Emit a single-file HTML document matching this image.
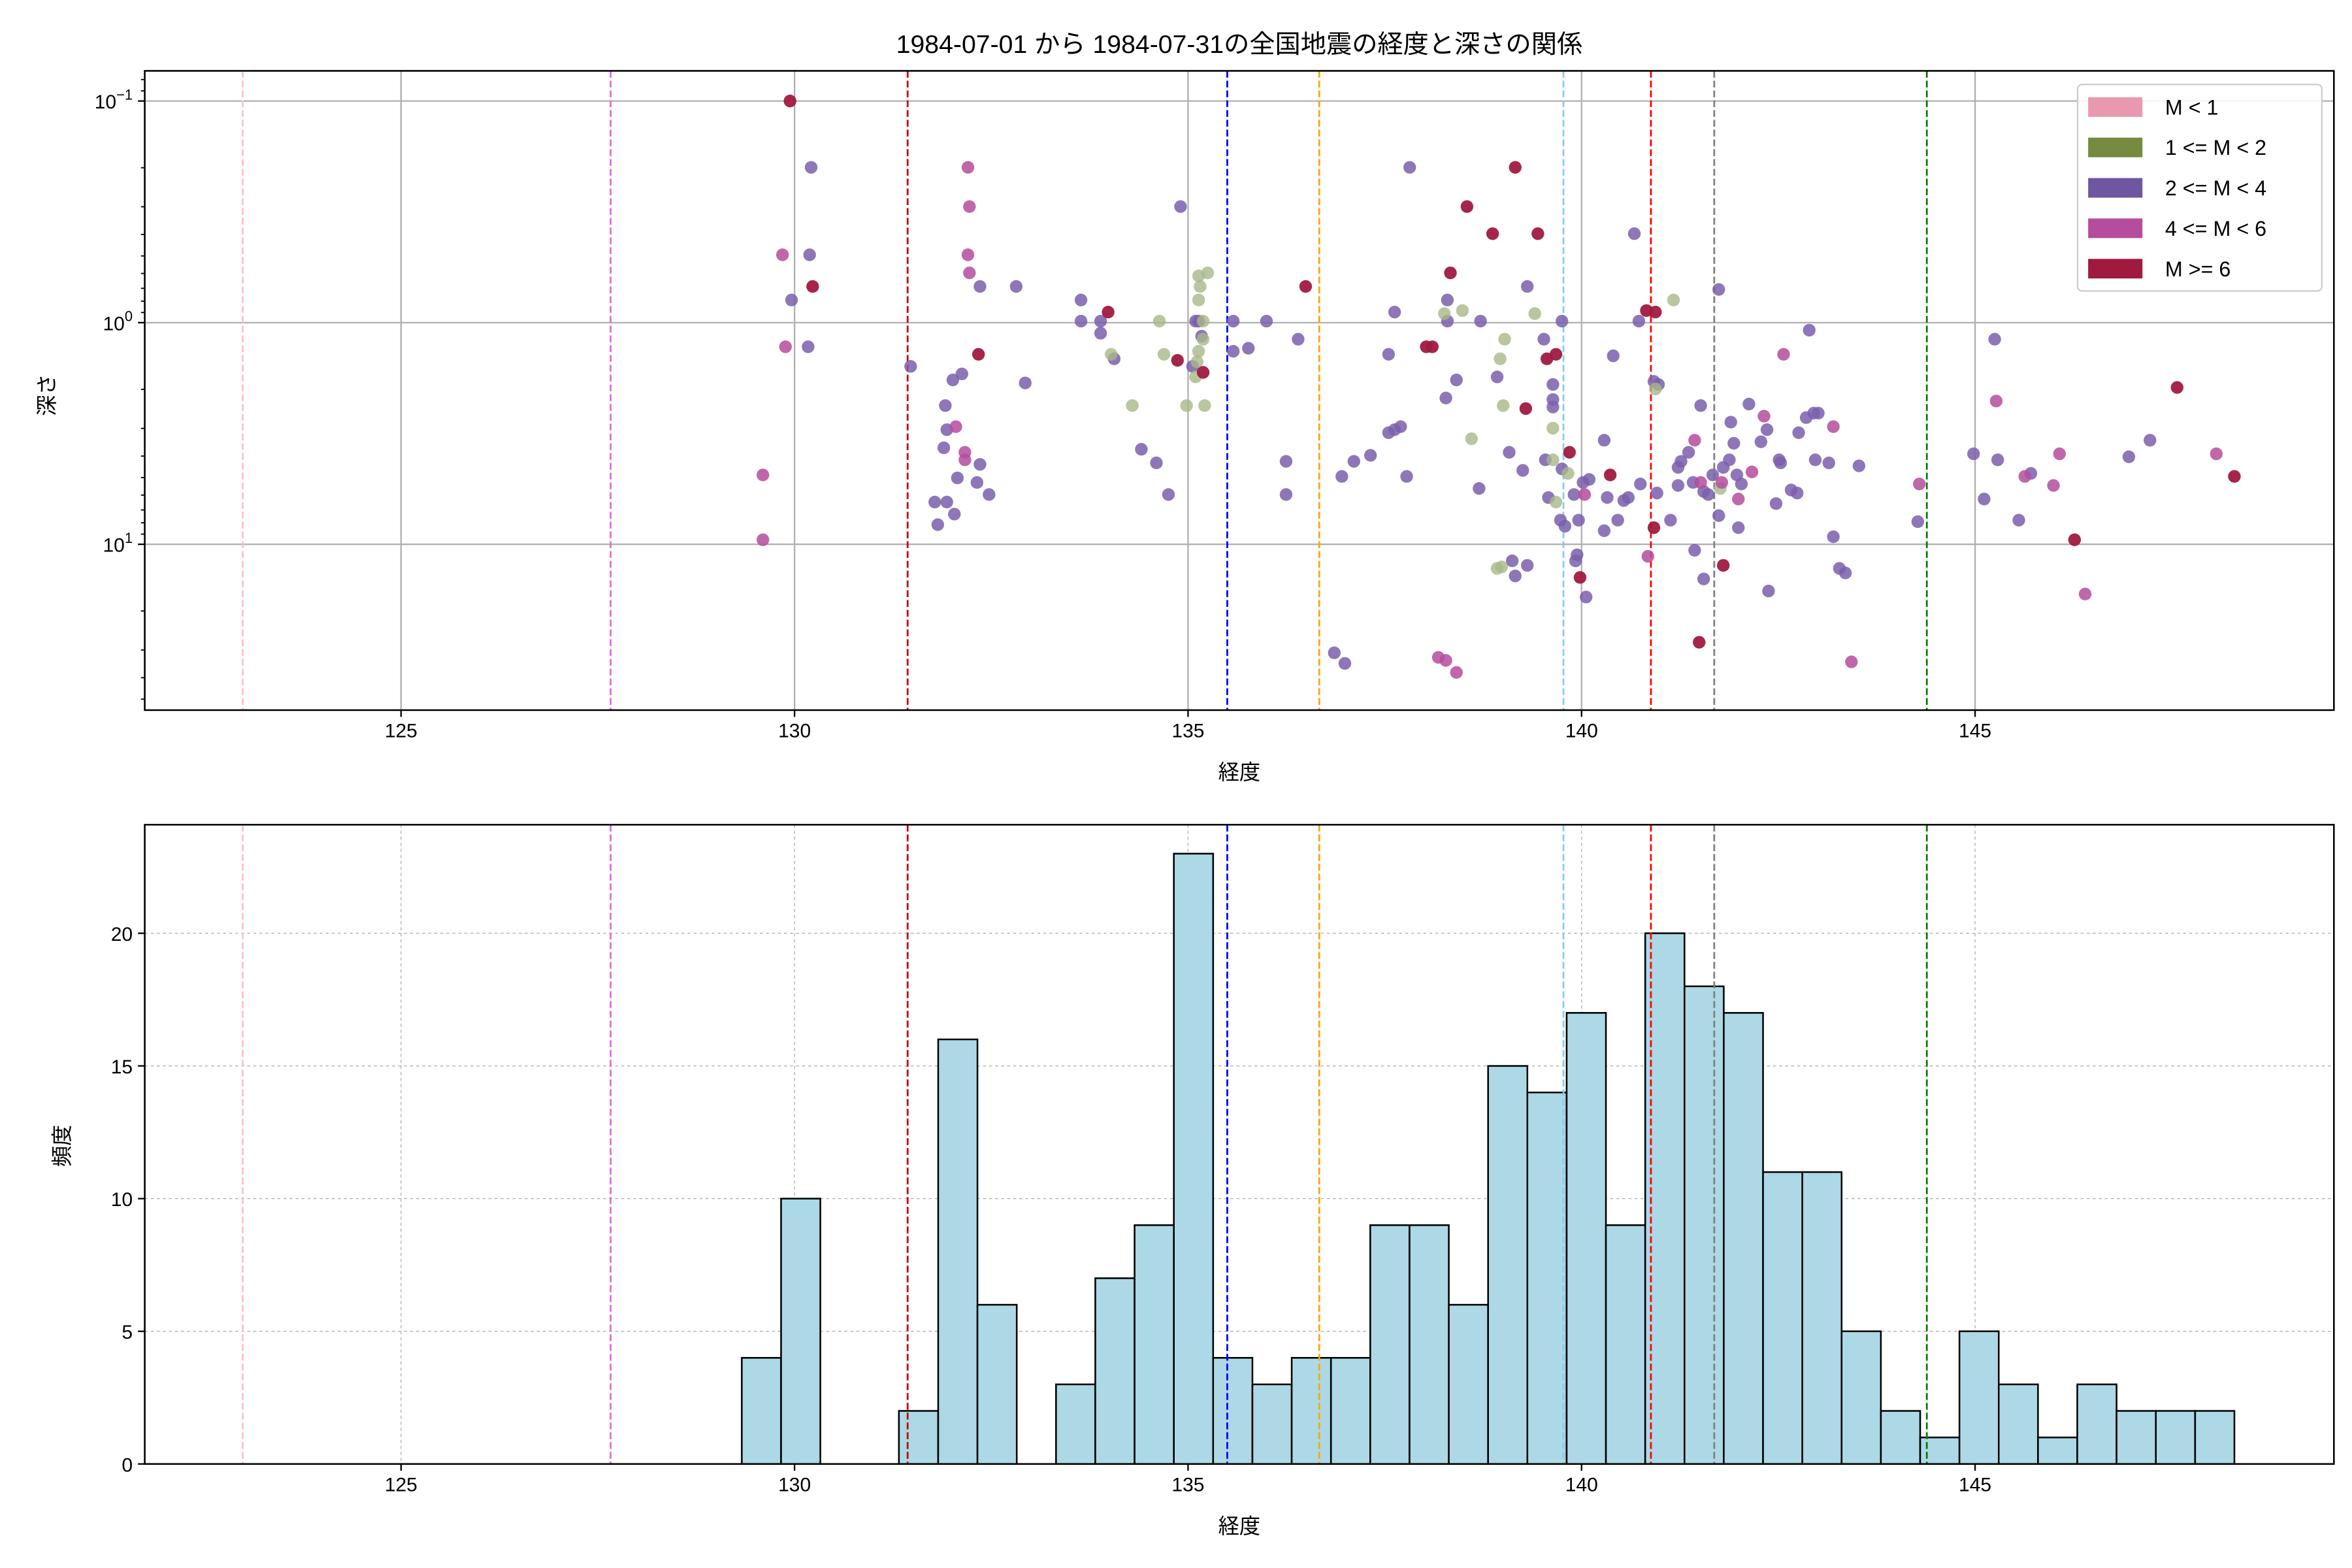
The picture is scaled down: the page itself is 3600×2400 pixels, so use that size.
<!DOCTYPE html>
<html><head><meta charset="utf-8">
<style>html,body{margin:0;padding:0;background:#fff}svg{display:block}</style>
</head><body>
<svg id="s" xmlns="http://www.w3.org/2000/svg" width="3600" height="2400" viewBox="0 0 1560 1040" font-family="'Liberation Sans','Noto Sans CJK JP',sans-serif"></svg>
<script>
const s=document.getElementById('s');let h='';
const X=l=>266+(l-125)*52.2;
const L=96,R=1548,T1=47,B1=471,T2=547,B2=971;
const YT=d=>214+147*Math.log10(d);
const YB=v=>971-17.6*v;
h+=`<rect width="1560" height="1040" fill="#fff"/>`;
// grids top
[125,130,135,140,145].forEach(l=>{h+=`<line x1="${X(l)}" y1="${T1}" x2="${X(l)}" y2="${B1}" stroke="#b0b0b0" stroke-width="1"/>`;});
[67,214,361].forEach(y=>{h+=`<line x1="${L}" y1="${y}" x2="${R}" y2="${y}" stroke="#b0b0b0" stroke-width="1"/>`;});
// grids bottom
[125,130,135,140,145].forEach(l=>{h+=`<line x1="${X(l)}" y1="${T2}" x2="${X(l)}" y2="${B2}" stroke="#b0b0b0" stroke-width="0.6" stroke-dasharray="2,2"/>`;});
[5,10,15,20].forEach(v=>{h+=`<line x1="${L}" y1="${YB(v)}" x2="${R}" y2="${YB(v)}" stroke="#b0b0b0" stroke-width="0.6" stroke-dasharray="2,2"/>`;});
// histogram
const hv=[4,10,0,0,2,16,6,0,3,7,9,23,4,3,4,4,9,9,6,15,14,17,9,20,18,17,11,11,5,2,1,5,3,1,3,2,2,2];
const w=(1482-492)/hv.length;
hv.forEach((v,i)=>{if(v>0)h+=`<rect x="${492+i*w}" y="${YB(v)}" width="${w}" height="${17.6*v}" fill="#add8e6" stroke="#000" stroke-width="1.1"/>`;});
// vertical lines
const vl=[[161,'pink'],[405,'orchid'],[602,'#c00000'],[814,'blue'],[875,'orange'],[1037,'skyblue'],[1095,'red'],[1137,'gray'],[1278,'green']];
vl.forEach(([x,c])=>{[[T1,B1],[T2,B2]].forEach(([a,b])=>{h+=`<line x1="${x}" y1="${a}" x2="${x}" y2="${b}" stroke="${c}" stroke-width="1.2" stroke-dasharray="4.5,2"/>`;});});
// points
const P={
'#7a5fab':[[538,111],[537,169],[525,199],[536,230],[604,243],[627,269],[638,248],[632,252],[628,285],[626,297],[635,317],[650,308],[648,320],[656,328],[620,333],[628,333],[622,348],[633,341],[650,190],[674,190],[680,254],[717,199],[717,213],[730,213],[730,221],[739,238],[757,298],[767,307],[775,328],[783,137],[791,243],[795,213],[797,223],[793,213],[818,233],[818,213],[828,231],[840,213],[861,225],[853,306],[853,328],[885,433],[892,440],[890,316],[898,306],[909,302],[921,287],[925,285],[929,283],[933,316],[921,235],[925,207],[935,111],[960,199],[960,213],[959,264],[966,252],[981,324],[982,213],[993,250],[1001,300],[1005,382],[1013,375],[1003,372],[1013,190],[1024,225],[1025,305],[1027,330],[1035,345],[1038,349],[1030,270],[1036,311],[1044,328],[1047,345],[1054,318],[1050,320],[1064,292],[1046,368],[1045,372],[1052,396],[1066,330],[1064,352],[1073,345],[1080,330],[1077,332],[1084,155],[1087,213],[1088,321],[1097,253],[1099,327],[1108,345],[1113,310],[1115,306],[1113,322],[1120,300],[1123,320],[1128,269],[1130,326],[1136,315],[1133,328],[1140,342],[1140,192],[1143,310],[1147,305],[1148,280],[1150,294],[1152,315],[1155,321],[1153,350],[1160,268],[1168,293],[1172,285],[1180,305],[1178,334],[1181,307],[1188,325],[1192,327],[1193,287],[1200,219],[1198,277],[1203,274],[1206,274],[1204,305],[1213,307],[1216,356],[1220,377],[1224,380],[1233,309],[1173,392],[1124,365],[1130,384],[1070,236],[1100,255],[1036,213],[1030,265],[1010,312],[1030,255],[1272,346],[1309,301],[1316,331],[1323,225],[1325,305],[1339,345],[1347,314],[1412,303],[1426,292]],
'#a8b888':[[737,235],[751,269],[769,213],[772,235],[787,269],[793,250],[794,240],[796,190],[799,269],[795,183],[801,181],[798,213],[795,199],[795,233],[798,225],[970,206],[976,291],[958,208],[997,269],[995,238],[998,225],[996,376],[1018,208],[1030,284],[1032,333],[1040,314],[1110,199],[1098,258],[1141,324],[1030,305],[993,377]],
'#b54c9e':[[519,169],[521,230],[506,315],[506,358],[642,111],[643,137],[642,169],[643,181],[634,283],[640,300],[640,305],[1051,328],[954,436],[959,438],[966,446],[1124,292],[1142,320],[1153,331],[1162,313],[1170,276],[1183,235],[1216,283],[1228,439],[1273,321],[1324,266],[1343,316],[1362,322],[1366,301],[1383,394],[1470,301],[1093,369],[1128,320]],
'#a01a40':[[524,67],[539,190],[649,235],[735,207],[781,239],[798,247],[866,190],[973,137],[990,155],[1005,111],[1020,155],[946,230],[950,230],[1032,235],[1026,238],[1012,271],[1041,300],[1048,383],[1068,315],[1098,207],[1097,350],[1143,375],[1127,426],[1376,358],[1444,257],[1482,316],[962,181],[1092,206]]};
for(const c in P){const op=c=='#a01a40'?0.95:c=='#a8b888'?0.8:0.85;P[c].forEach(([x,y])=>{h+=`<circle cx="${x}" cy="${y}" r="4.2" fill="${c}" fill-opacity="${op}"/>`;});}
// axes frames
[[T1,B1],[T2,B2]].forEach(([a,b])=>{h+=`<rect x="${L}" y="${a}" width="${R-L}" height="${b-a}" fill="none" stroke="#000" stroke-width="1.1"/>`;
[125,130,135,140,145].forEach(l=>{h+=`<line x1="${X(l)}" y1="${b}" x2="${X(l)}" y2="${b+4.5}" stroke="#000"/><text x="${X(l)}" y="${b+18}" font-size="13" text-anchor="middle">${l}</text>`;});
h+=`<text x="822" y="${b+52}" font-size="14" text-anchor="middle" dy="-6">経度</text>`;});
// top y ticks
[[67,'−1'],[214,'0'],[361,'1']].forEach(([y,e])=>{h+=`<line x1="${L-4.5}" y1="${y}" x2="${L}" y2="${y}" stroke="#000"/><text x="${L-8}" y="${y+5}" font-size="13" text-anchor="end">10<tspan font-size="9.5" dy="-6">${e}</tspan></text>`;});
[0.1,1,10].forEach(d=>{for(let k=2;k<=9;k++){const y=YT(d*k/ (d==0.1?1:1));}});
[0.1,1,10,0.01].forEach(base=>{for(let k=2;k<=9;k++){const y=YT(base*k);if(y>T1&&y<B1)h+=`<line x1="${L-2.5}" y1="${y}" x2="${L}" y2="${y}" stroke="#000" stroke-width="0.8"/>`;}});
// bottom y ticks
[0,5,10,15,20].forEach(v=>{h+=`<line x1="${L-4.5}" y1="${YB(v)}" x2="${L}" y2="${YB(v)}" stroke="#000"/><text x="${L-8}" y="${YB(v)+5}" font-size="13" text-anchor="end">${v}</text>`;});
h+=`<text transform="translate(36,262) rotate(-90)" font-size="14" text-anchor="middle">深さ</text>`;
h+=`<text transform="translate(46,760) rotate(-90)" font-size="14" text-anchor="middle">頻度</text>`;
h+=`<text x="822" y="35" font-size="17" text-anchor="middle">1984-07-01 から 1984-07-31の全国地震の経度と深さの関係</text>`;
// legend
h+=`<rect x="1378" y="56" width="162" height="137" rx="3" fill="#fff" fill-opacity="0.85" stroke="#ccc"/>`;
[['#e899b0','M &lt; 1'],['#768a40','1 &lt;= M &lt; 2'],['#6e56a0','2 &lt;= M &lt; 4'],['#b54c9e','4 &lt;= M &lt; 6'],['#a01a40','M &gt;= 6']].forEach(([c,t],i)=>{const y=71+i*26.8;h+=`<rect x="1385" y="${y-6.5}" width="36" height="13" fill="${c}"/><text x="1436" y="${y+5}" font-size="14">${t}</text>`;});
s.innerHTML=h;
</script>
</body></html>
